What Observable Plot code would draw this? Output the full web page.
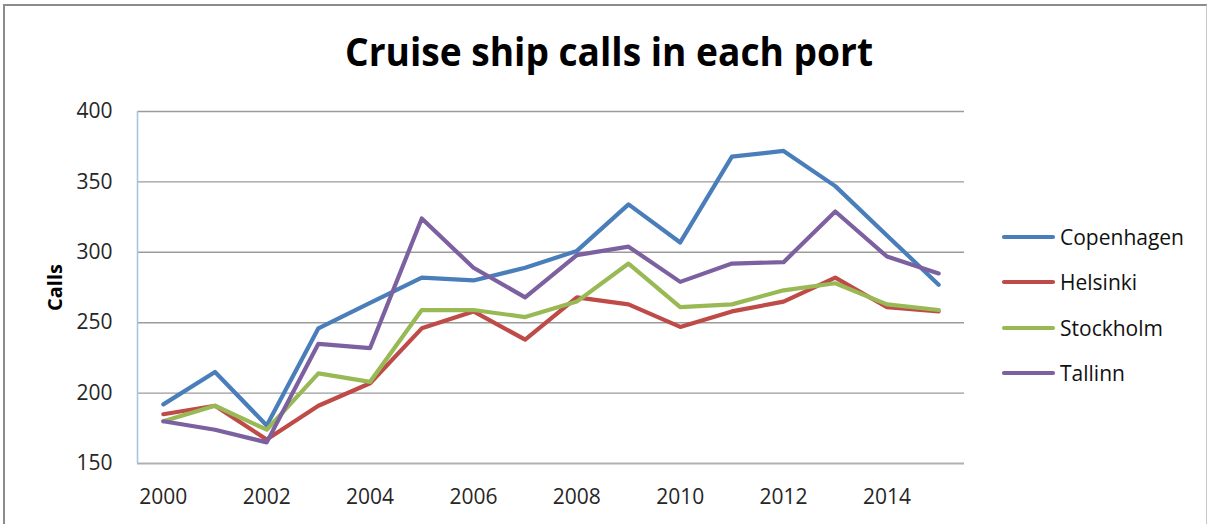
<!DOCTYPE html>
<html>
<head>
<meta charset="utf-8">
<script src="https://cdn.jsdelivr.net/npm/d3@7"></script>
<script src="https://cdn.jsdelivr.net/npm/@observablehq/plot@0.6"></script>
<style>
  html, body { margin: 0; padding: 0; background: #fff; }
  #page { position: relative; width: 1211px; height: 524px; overflow: hidden; background: #fff; font-family: "Open Sans", sans-serif; }
  #border { position: absolute; left: 3px; top: 4px; width: 1204px; height: 640px;
            border-top: 2px solid #8c8c8c; border-left: 2px solid #8c8c8c; border-right: 1px solid #c8c8c8; box-sizing: border-box; }
  #titlebox { position: relative; height: 95px; }
  #titlebox svg { display: block; }
  #chart svg { display: block; }
  #legend { position: absolute; left: 1001px; top: 214px; }
  .lrow { height: 45.5px; display: flex; align-items: center; font-size: 21px; color: #111; }
  .lrow svg { display: block; margin-right: 3px; }
</style>
</head>
<body>
<div id="page">
  <div id="border"></div>
  <div id="titlebox"></div>
  <div id="chart"></div>
  <div id="legend"></div>
</div>
<script>
// ---- data ----
const titleText = "Cruise ship calls in each port";
const yLabel = "Calls";
const years = [2000, 2001, 2002, 2003, 2004, 2005, 2006, 2007, 2008, 2009, 2010, 2011, 2012, 2013, 2014, 2015];
const ports = ["Copenhagen", "Helsinki", "Stockholm", "Tallinn"];
const copenhagen = [192, 215, 177, 246, 264, 282, 280, 289, 301, 334, 307, 368, 372, 347, 312, 277];
const helsinki   = [185, 191, 167, 191, 207, 246, 258, 238, 268, 263, 247, 258, 265, 282, 261, 258];
const stockholm  = [180, 191, 174, 214, 208, 259, 259, 254, 265, 292, 261, 263, 273, 278, 263, 259];
const tallinn    = [180, 174, 165, 235, 232, 324, 289, 268, 298, 304, 279, 292, 293, 329, 297, 285];
const xTicks = [2000, 2002, 2004, 2006, 2008, 2010, 2012, 2014];
const yTicks = [150, 200, 250, 300, 350, 400];
const portColors = ["#4a7ebb", "#be4b48", "#98b954", "#7d60a0"];

// ---- table ----
const seriesValues = [copenhagen, helsinki, stockholm, tallinn];
const rows = [];
ports.forEach((p, k) => years.forEach((yr, i) => rows.push({port: p, year: yr, calls: seriesValues[k][i]})));

// ---- title ----
const ns = "http://www.w3.org/2000/svg";
const tsvg = document.createElementNS(ns, "svg");
tsvg.setAttribute("width", 1211); tsvg.setAttribute("height", 95);
const tt = document.createElementNS(ns, "text");
tt.setAttribute("x", 609); tt.setAttribute("y", 66);
tt.setAttribute("text-anchor", "middle");
tt.setAttribute("font-family", "Open Sans, sans-serif");
tt.setAttribute("font-weight", "bold");
tt.setAttribute("font-size", "38.5");
tt.setAttribute("textLength", "528");
tt.setAttribute("lengthAdjust", "spacingAndGlyphs");
tt.setAttribute("fill", "#000");
tt.textContent = titleText;
tsvg.appendChild(tt);
document.getElementById("titlebox").appendChild(tsvg);

// ---- chart ----
const xDomain = [years[0] - 0.5, years[years.length - 1] + 0.5];
const chart = Plot.plot({
  width: 1211,
  height: 429,
  marginTop: 16,
  marginLeft: 137,
  marginRight: 247,
  marginBottom: 61,
  style: {fontFamily: "Open Sans, sans-serif", fontSize: "21px", color: "#262626", background: "transparent"},
  x: {type: "linear", domain: xDomain},
  y: {domain: [yTicks[0], yTicks[yTicks.length - 1]]},
  color: {domain: ports, range: portColors},
  marks: [
    Plot.ruleY(yTicks.slice(1), {stroke: "#9b9b9b", strokeWidth: 1.4}),
    Plot.ruleY([yTicks[0]], {stroke: "#b0b0b0", strokeWidth: 2}),
    Plot.ruleX([xDomain[0]], {stroke: "#a9c3e6", strokeWidth: 1.6}),
    Plot.axisY(yTicks, {tickSize: 0, tickPadding: 25, label: null, fill: "#262626"}),
    Plot.axisX(xTicks, {tickSize: 0, tickPadding: 26, label: null, tickFormat: d => String(d), fill: "#262626"}),
    Plot.text([yLabel], {frameAnchor: "left", textAnchor: "middle", rotate: -90, dx: -82, fontWeight: "bold", fontSize: 20, fill: "#000"}),
    Plot.lineY(rows, {x: "year", y: "calls", z: "port", stroke: "port", strokeWidth: 4.2, strokeLinejoin: "round", strokeLinecap: "round"})
  ]
});
document.getElementById("chart").appendChild(chart);

// ---- legend ----
const legend = document.getElementById("legend");
ports.forEach((p, k) => {
  const row = document.createElement("div");
  row.className = "lrow";
  row.innerHTML = `<svg width="56" height="8"><line x1="3" y1="4" x2="52" y2="4" stroke="${portColors[k]}" stroke-width="4.2" stroke-linecap="round"/></svg><span>${p}</span>`;
  legend.appendChild(row);
});
</script>
</body>
</html>
